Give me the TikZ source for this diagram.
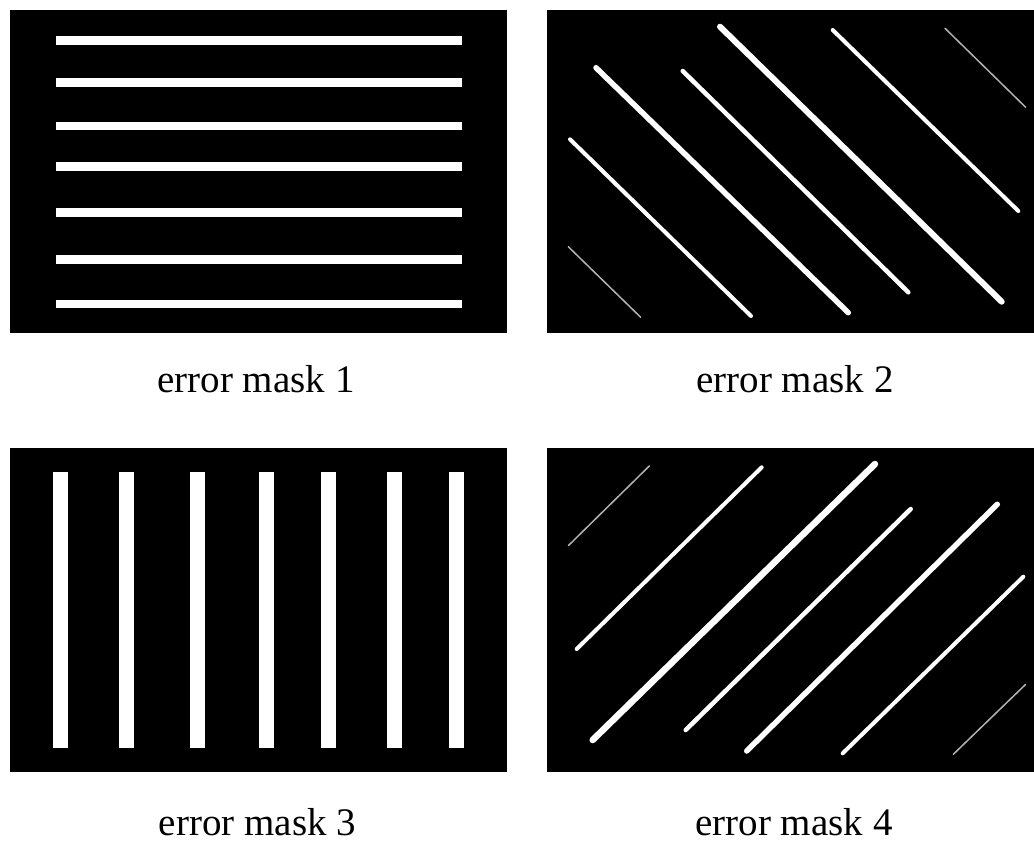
\documentclass[tikz,border=0pt]{standalone}
\usepackage{fontspec}
\setmainfont{Liberation Serif}
\begin{document}
\begin{tikzpicture}[x=1pt,y=-1pt,
  panel/.style={fill=black},
  hbar/.style={white,line width=8.5pt},
  vbar/.style={fill=white},
  diag/.style={white,line cap=round},
  faint/.style={white!70!black,line cap=round,line width=1.5pt},
  masklabel/.style={anchor=base,font=\fontsize{39}{44}\selectfont,inner sep=0pt}]
\useasboundingbox[fill=white] (0,0) rectangle (1034,846);
% panel 1
\fill[panel] (10,10) rectangle (507,333);
\foreach \y in {40.7,82.3,126,166.7,212.7,259.3,304}
  \draw[hbar] (56,\y) -- (462,\y);
\node[masklabel] (c1) at (256,392) {error mask 1};
% panel 2
\fill[panel] (546.7,10) rectangle (1034,333);
\draw[faint] (568.3,246.7) -- (640.7,317.3);
\draw[diag,line width=4pt] (570,139.3) -- (751,316);
\draw[diag,line width=5.5pt] (596,67.7) -- (848.3,312.7);
\draw[diag,line width=4.5pt] (682.7,71) -- (908.3,292.3);
\draw[diag,line width=6pt] (720,26.7) -- (1001.7,301.7);
\draw[diag,line width=4pt] (832.7,30) -- (1018.3,211);
\draw[faint] (945,28.3) -- (1025.7,107.3);
\node[masklabel] (c2) at (795,392) {error mask 2};
% panel 3
\fill[panel] (10,448.3) rectangle (507,771.7);
\foreach \x in {53.3,119.3,190,259.3,320.7,386.7,449.3}
  \fill[vbar] (\x,471.7) rectangle ++(15,276.6);
\node[masklabel] (c3) at (257.5,835) {error mask 3};
% panel 4
\fill[panel] (546.7,448.3) rectangle (1034,771.7);
\draw[faint] (568.3,545.7) -- (649.3,466);
\draw[diag,line width=4pt] (576.7,649) -- (761.7,467.3);
\draw[diag,line width=6.5pt] (592.7,740) -- (875,464);
\draw[diag,line width=4.5pt] (685.7,730) -- (910.7,509);
\draw[diag,line width=5.5pt] (746.7,751) -- (997.3,504.3);
\draw[diag,line width=4pt] (842.7,753.3) -- (1023.3,576.7);
\draw[faint] (953.3,754.3) -- (1025.7,684.3);
\node[masklabel] (c4) at (794,835) {error mask 4};
\end{tikzpicture}
\end{document}
